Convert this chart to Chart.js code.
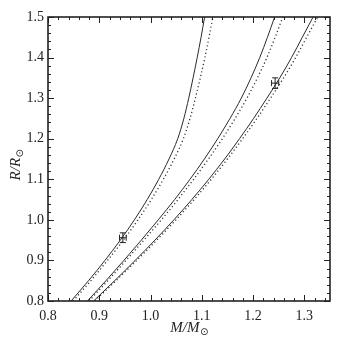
<!DOCTYPE html>
<html>
<head>
<meta charset="utf-8">
<script src="https://cdn.jsdelivr.net/npm/chart.js@4.4.0/dist/chart.umd.min.js"></script>
<style>
html, body { margin: 0; padding: 0; background: #fff; }
</style>
</head>
<body>
<canvas id="mr" width="347" height="347"></canvas>
<script>
// 半径网格 (R/Rsun)
const radiusGrid = [0.80, 0.85, 0.90, 0.95, 1.00, 1.05, 1.10, 1.15, 1.20, 1.25, 1.30, 1.35, 1.40, 1.45, 1.50];

// 三组演化轨迹的质量值 (M/Msun)，实线与点线
const track1Solid  = [0.845, 0.879, 0.911, 0.941, 0.9685, 0.9935, 1.016, 1.036, 1.053, 1.065, 1.0745, 1.083, 1.091, 1.0985, 1.1055];
const track1Dotted = [0.849, 0.8835, 0.916, 0.947, 0.9755, 1.0015, 1.025, 1.046, 1.064, 1.077, 1.0875, 1.097, 1.106, 1.114, 1.1215];
const track2Solid  = [0.877, 0.913, 0.948, 0.982, 1.015, 1.047, 1.077, 1.105, 1.131, 1.155, 1.177, 1.196, 1.213, 1.228, 1.242];
const track2Dotted = [0.880, 0.9165, 0.952, 0.987, 1.021, 1.0535, 1.084, 1.113, 1.140, 1.165, 1.188, 1.2085, 1.227, 1.243, 1.258];
const track3Solid  = [0.889, 0.930, 0.970, 1.0085, 1.0455, 1.0805, 1.1135, 1.1445, 1.1735, 1.201, 1.227, 1.252, 1.275, 1.296, 1.317];
const track3Dotted = [0.891, 0.9325, 0.973, 1.012, 1.0495, 1.085, 1.1185, 1.150, 1.1795, 1.2075, 1.234, 1.2595, 1.283, 1.3045, 1.326];

// 观测点及误差
const obsMass      = [0.946, 1.243];
const obsRadius    = [0.956, 1.337];
const obsMassErr   = [0.0065, 0.007];
const obsRadiusErr = [0.012, 0.013];

// 刻度
const xTicks = [0.8, 0.9, 1.0, 1.1, 1.2, 1.3];
const yTicks = [0.8, 0.9, 1.0, 1.1, 1.2, 1.3, 1.4, 1.5];
const minorStep = 0.02;

const serif = '"Liberation Serif", "DejaVu Serif", serif';
const ink = '#222';

function toPoints(masses) {
    return radiusGrid.map((r, i) => ({ x: masses[i], y: r }));
}

function lineSet(masses, dotted) {
    return {
        data: toPoints(masses),
        showLine: true,
        pointRadius: 0,
        borderColor: dotted ? '#333' : '#2a2a2a',
        borderWidth: dotted ? 1.3 : 1,
        borderDash: dotted ? [1.2, 2.6] : [],
        cubicInterpolationMode: 'monotone',
        fill: false
    };
}

// 画框、内向刻度、误差棒和坐标轴标题
const decorPlugin = {
    id: 'decor',
    afterDatasetsDraw(chart) {
        const ctx = chart.ctx;
        const a = chart.chartArea;
        const xs = chart.scales.x;
        const ys = chart.scales.y;
        ctx.save();
        ctx.strokeStyle = ink;

        // 误差棒
        ctx.lineWidth = 1;
        obsMass.forEach((m, i) => {
            const cx = xs.getPixelForValue(m);
            const cy = ys.getPixelForValue(obsRadius[i]);
            const x0 = xs.getPixelForValue(m - obsMassErr[i]);
            const x1 = xs.getPixelForValue(m + obsMassErr[i]);
            const y0 = ys.getPixelForValue(obsRadius[i] - obsRadiusErr[i]);
            const y1 = ys.getPixelForValue(obsRadius[i] + obsRadiusErr[i]);
            const cap = 3;
            ctx.beginPath();
            ctx.moveTo(x0, cy); ctx.lineTo(x1, cy);
            ctx.moveTo(cx, y0); ctx.lineTo(cx, y1);
            ctx.moveTo(x0, cy - cap); ctx.lineTo(x0, cy + cap);
            ctx.moveTo(x1, cy - cap); ctx.lineTo(x1, cy + cap);
            ctx.moveTo(cx - cap, y0); ctx.lineTo(cx + cap, y0);
            ctx.moveTo(cx - cap, y1); ctx.lineTo(cx + cap, y1);
            ctx.stroke();
        });

        // 内向刻度
        ctx.lineWidth = 1;
        ctx.beginPath();
        for (let v = 0.8; v <= 1.35 + 1e-9; v += minorStep) {
            const major = xTicks.some(t => Math.abs(t - v) < 1e-6);
            const len = major ? 6 : 3;
            const px = Math.round(xs.getPixelForValue(v)) + 0.5;
            ctx.moveTo(px, a.bottom); ctx.lineTo(px, a.bottom - len);
            ctx.moveTo(px, a.top); ctx.lineTo(px, a.top + len);
        }
        for (let v = 0.8; v <= 1.5 + 1e-9; v += minorStep) {
            const major = yTicks.some(t => Math.abs(t - v) < 1e-6);
            const len = major ? 6 : 3;
            const py = Math.round(ys.getPixelForValue(v)) + 0.5;
            ctx.moveTo(a.left, py); ctx.lineTo(a.left + len, py);
            ctx.moveTo(a.right, py); ctx.lineTo(a.right - len, py);
        }
        ctx.stroke();

        // 外框
        ctx.lineWidth = 1.6;
        ctx.strokeRect(a.left, a.top, a.right - a.left, a.bottom - a.top);

        // 坐标轴标题 M/M⊙ 与 R/R⊙
        ctx.fillStyle = ink;
        function drawLabel(letter, x, y) {
            ctx.textBaseline = 'alphabetic';
            ctx.textAlign = 'left';
            const main = 'italic 15px ' + serif;
            const sub = '10px "DejaVu Sans", sans-serif';
            ctx.font = main;
            const w1 = ctx.measureText(letter + '/' + letter).width;
            ctx.font = sub;
            const w2 = ctx.measureText('\u2299').width;
            let sx = x - (w1 + w2) / 2;
            ctx.font = main;
            ctx.fillText(letter + '/' + letter, sx, y);
            ctx.font = sub;
            ctx.fillText('\u2299', sx + w1 + 0.5, y + 3);
        }
        drawLabel('M', (a.left + a.right) / 2, 332);
        ctx.save();
        ctx.translate(20, 165);
        ctx.rotate(-Math.PI / 2);
        drawLabel('R', 0, 0);
        ctx.restore();

        ctx.restore();
    }
};

new Chart(document.getElementById('mr'), {
    type: 'scatter',
    data: {
        datasets: [
            lineSet(track1Solid, false),
            lineSet(track1Dotted, true),
            lineSet(track2Solid, false),
            lineSet(track2Dotted, true),
            lineSet(track3Solid, false),
            lineSet(track3Dotted, true)
        ]
    },
    options: {
        responsive: false,
        animation: false,
        devicePixelRatio: 1,
        layout: { padding: { top: 17, right: 17, left: 0, bottom: 0 } },
        plugins: {
            legend: { display: false },
            tooltip: { enabled: false }
        },
        scales: {
            x: {
                type: 'linear',
                min: 0.8,
                max: 1.35,
                grid: { display: false, drawTicks: false },
                border: { display: false },
                afterBuildTicks: s => { s.ticks = xTicks.map(v => ({ value: v })); },
                afterFit: s => { s.height = 46; },
                ticks: {
                    padding: 7,
                    color: ink,
                    maxRotation: 0,
                    autoSkip: false,
                    font: { family: serif, size: 14 },
                    callback: v => v.toFixed(1)
                }
            },
            y: {
                type: 'linear',
                min: 0.8,
                max: 1.5,
                grid: { display: false, drawTicks: false },
                border: { display: false },
                afterBuildTicks: s => { s.ticks = yTicks.map(v => ({ value: v })); },
                afterFit: s => { s.width = 48; },
                ticks: {
                    padding: 4,
                    color: ink,
                    autoSkip: false,
                    font: { family: serif, size: 14 },
                    callback: v => v.toFixed(1)
                }
            }
        }
    },
    plugins: [decorPlugin]
});
</script>
</body>
</html>
